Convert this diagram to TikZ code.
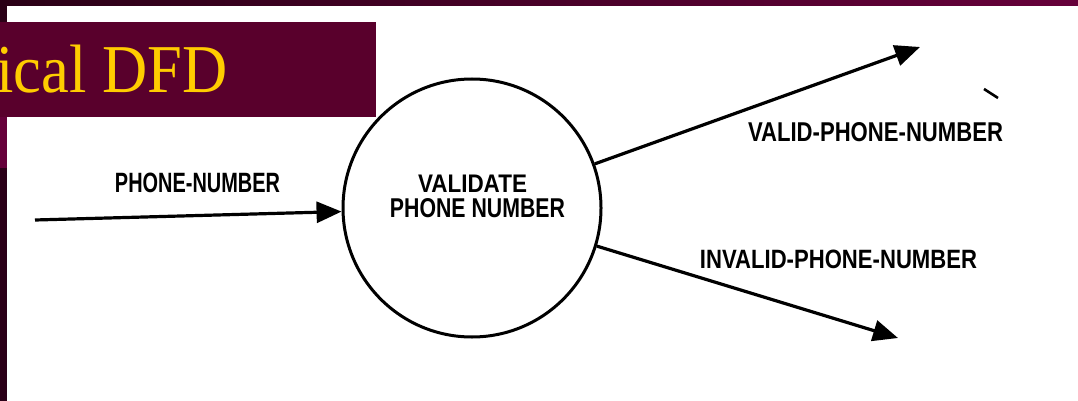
\documentclass[tikz,border=0pt]{standalone}
\usepackage{fontspec}
\setmainfont{Liberation Serif}
\setsansfont{Liberation Sans}
\usetikzlibrary{arrows.meta}
\definecolor{barL}{HTML}{2A0016}
\definecolor{barR}{HTML}{66003A}
\definecolor{titlebox}{HTML}{59002C}
\definecolor{titletext}{HTML}{FFCC00}
\definecolor{stripmid}{HTML}{66003A}
\definecolor{stripdark}{HTML}{2B0018}
\tikzset{
  flow/.style={line width=3.2pt, -{Triangle[length=25pt,width=21pt]}},
  lbl/.style={inner sep=0pt, text=black},
  proc/.style={circle, draw, line width=3pt, minimum size=258pt, inner sep=0pt}
}
\newcommand{\fitlabel}[3]{\resizebox{#1pt}{#2pt}{\sffamily\bfseries #3}}
\begin{document}
\begin{tikzpicture}[x=1pt,y=-1pt]
\useasboundingbox (0,0) rectangle (1078,401);
\fill[white] (0,0) rectangle (1078,401);
% frame decoration
\shade[left color=barL, right color=barR] (0,0) rectangle (1078,6);
\fill[barL] (0,6) rectangle (7,22);
\fill[stripmid] (0,117) rectangle (7,168);
\fill[stripdark] (0,168) rectangle (7,401);
% title box
\fill[titlebox] (0,22) rectangle (376,117);
\begin{scope}
\clip (0,22) rectangle (376,117);
\node[anchor=base west, inner sep=0pt, text=titletext] (title) at (-4,93) {\resizebox{231pt}{47.5pt}{\rmfamily ical DFD}};
\end{scope}
% process
\node[proc] (p) at (472,208) {};
\node[lbl] (t1) at (472.5,184) {\fitlabel{109}{17.5}{VALIDATE}};
\node[lbl] (t2) at (477.5,208.5) {\fitlabel{175}{19}{PHONE NUMBER}};
% flows
\coordinate (in) at (35,220);
\coordinate (o1) at (920,47);
\coordinate (o2) at (898,338);
\draw[flow] (in) -- (p);
\draw[flow] (p) -- (o1);
\draw[flow] (p) -- (o2);
\node[lbl] (l1) at (197.5,183) {\fitlabel{165}{19.5}{PHONE-NUMBER}};
\node[lbl] (l2) at (875.5,132.5) {\fitlabel{255}{19}{VALID-PHONE-NUMBER}};
\node[lbl] (l3) at (838.5,259) {\fitlabel{277}{18.5}{INVALID-PHONE-NUMBER}};
% stray mark
\coordinate (m1) at (984,89);
\coordinate (m2) at (998,98);
\draw[line width=2.6pt] (m1) -- (m2);
\end{tikzpicture}
\end{document}
